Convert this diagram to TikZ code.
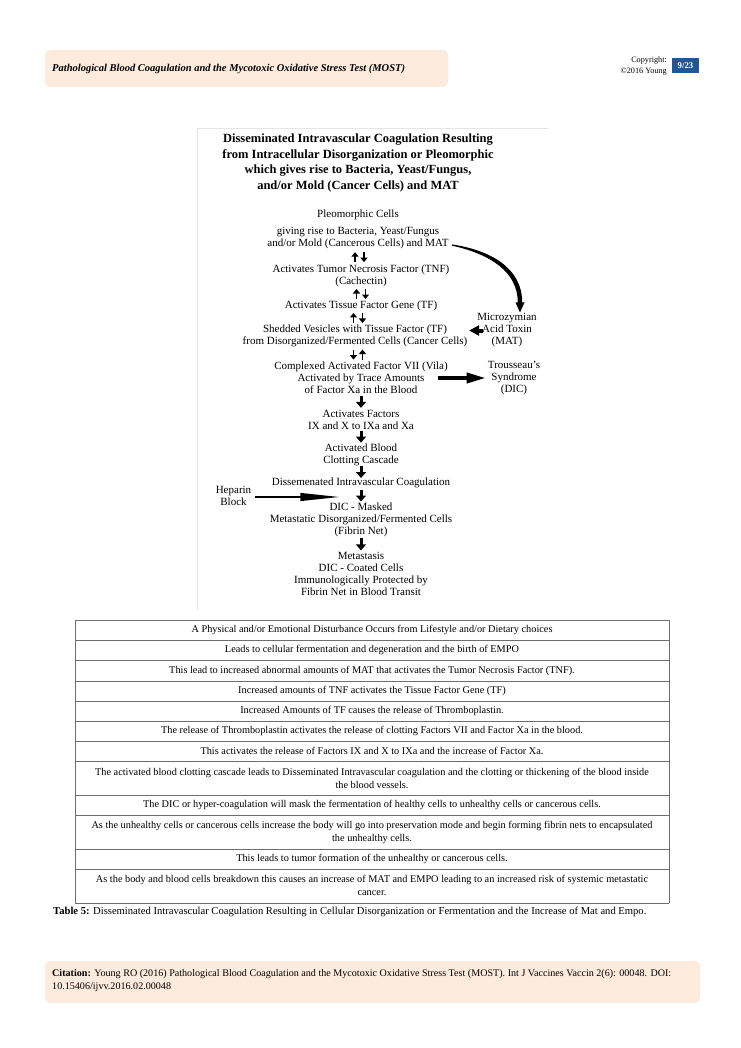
\documentclass[tikz,border=0pt]{standalone}
\usepackage{fontspec}
\setmainfont{Liberation Serif}
\usetikzlibrary{positioning,arrows.meta,calc}

\definecolor{peach}{RGB}{253,236,222}
\definecolor{pageblue}{RGB}{33,86,152}
\definecolor{rule}{RGB}{110,110,110}

\begin{document}
\begin{tikzpicture}[x=1pt, y=-1pt,
  flow/.style={align=center, inner sep=0pt, font=\fontsize{11}{12}\selectfont},
  tabtext/.style={align=center, inner sep=0pt, font=\fontsize{10.3}{13}\selectfont},
  fatarrow/.style={line width=3pt, -{Triangle[length=6pt,width=10pt]}},
  pairarrow/.style={line width=1.6pt, -{Triangle[length=4.5pt,width=7pt]}},
  sidearrow/.style={line width=3.5pt, -{Triangle[length=19pt,width=10pt]}},
  leftarrow/.style={line width=4pt, -{Triangle[length=10pt,width=10pt]}},
  heparrow/.style={line width=2.4pt, -{Triangle[length=40pt,width=7.5pt]}}]
  %----- page -----
  \useasboundingbox (0,0) rectangle (740,1048);
  \fill[white] (0,0) rectangle (740,1048);
  % header
  \fill[peach, rounded corners=5pt] (45,50) rectangle (448,87);
  \node[anchor=west, inner sep=0pt, font=\fontsize{10.5}{12}\selectfont\bfseries\itshape] (head) at (52,69)
    {Pathological Blood Coagulation and the Mycotoxic Oxidative Stress Test (MOST)};
  \node[anchor=east, align=right, inner sep=0pt, font=\fontsize{8.2}{11}\selectfont] (copy) at (667,66.5)
    {Copyright:\\ ©2016 Young};
  \node[fill=pageblue, text=white, inner sep=0pt, minimum width=27pt, minimum height=15pt,
    font=\fontsize{8.8}{10}\selectfont\bfseries] (page) at (685.5,66) {9/23};

  %----- figure -----
  \draw[black!10] (197,610) -- (197,128) -- (548,128);
  \node[align=center, inner sep=0pt, font=\fontsize{12.5}{15.7}\selectfont\bfseries] (title) at (358,163)
    {Disseminated Intravascular Coagulation Resulting\\
     from Intracellular Disorganization or Pleomorphic\\
     which gives rise to Bacteria, Yeast/Fungus,\\
     and/or Mold (Cancer Cells) and MAT};

  \node[flow] (pleo) at (358,215) {Pleomorphic Cells};
  \node[flow] (rise) at (358,238.5) {giving rise to Bacteria, Yeast/Fungus\\ and/or Mold (Cancerous Cells) and MAT};
  \node[flow] (tnf)  at (361,276) {Activates Tumor Necrosis Factor (TNF)\\ (Cachectin)};
  \node[flow] (tf)   at (361,306) {Activates Tissue Factor Gene (TF)};
  \node[flow] (shed) at (355,336) {Shedded Vesicles with Tissue Factor (TF)\\ from Disorganized/Fermented Cells (Cancer Cells)};
  \node[flow] (vii)  at (361,378) {Complexed Activated Factor VII (Vila)\\ Activated by Trace Amounts\\ of Factor Xa in the Blood};
  \node[flow] (ixx)  at (361,419.5) {Activates Factors\\ IX and X to IXa and Xa};
  \node[flow] (casc) at (361,455) {Activated Blood\\ Clotting Cascade};
  \node[flow] (dic)  at (361,483) {Dissemenated Intravascular Coagulation};
  \node[flow] (mask) at (361,520) {DIC - Masked\\ Metastatic Disorganized/Fermented Cells\\ (Fibrin Net)};
  \node[flow] (meta) at (361,573.5) {Metastasis\\ DIC - Coated Cells\\ Immunologically Protected by\\ Fibrin Net in Blood Transit};
  % side notes
  \node[flow] (mat)  at (507,330.5) {Microzymian\\ Acid Toxin\\ (MAT)};
  \node[flow] (trou) at (514,378) {Trousseau's\\ Syndrome\\ (DIC)};
  \node[flow] (hep)  at (233.5,496) {Heparin\\ Block};

  %----- arrows between the steps -----
  \def\updn#1#2{ % up arrow left, down arrow right
    \coordinate (mid) at ($(#1.south)!.5!(#2.north)$);
    \draw[pairarrow] ([xshift=-4.5pt,yshift=-5pt]mid) -- ++(0,-10);
    \draw[pairarrow] ([xshift=4.5pt,yshift=5pt]mid) -- ++(0,10);
  }
  \def\dnup#1#2{ % down arrow left, up arrow right
    \coordinate (mid) at ($(#1.south)!.5!(#2.north)$);
    \draw[pairarrow] ([xshift=-4.5pt,yshift=5pt]mid) -- ++(0,10);
    \draw[pairarrow] ([xshift=4.5pt,yshift=-5pt]mid) -- ++(0,-10);
  }
  \def\fatdown#1#2{
    \coordinate (mid) at ($(#1.south)!.5!(#2.north)$);
    \draw[fatarrow] ([yshift=6pt]mid) -- ++(0,12);
  }
  \updn{rise}{tnf}
  \updn{tnf}{tf}
  \updn{tf}{shed}
  \dnup{shed}{vii}
  \fatdown{vii}{ixx}
  \fatdown{ixx}{casc}
  \fatdown{casc}{dic}
  \fatdown{dic}{mask}
  \fatdown{mask}{meta}

  % tapered curve from the MAT line to the toxin note
  \coordinate (cs) at ($(rise.east)+(3,6.5)$);
  \coordinate (ce) at ($(mat.north)+(13,-1)$);
  \fill ($(cs)+(0,-0.6)$) .. controls ($(cs)+(38,5)$) and ($(ce)+(2.2,-45)$) .. ($(ce)+(2.2,-10)$)
    -- ($(ce)+(4.5,-10)$) -- (ce) -- ($(ce)+(-4.5,-10)$) -- ($(ce)+(-2.2,-10)$)
    .. controls ($(ce)+(-2.2,-41)$) and ($(cs)+(38,9)$) .. ($(cs)+(0,0.6)$) -- cycle;
  \draw[leftarrow] ([xshift=5.5pt]mat.west) -- ++(-13.5,0);
  \draw[sidearrow] ([xshift=-10pt]vii.east) -- ([xshift=-2pt]trou.west);
  \draw[heparrow] ([xshift=4pt,yshift=-1pt]hep.east) -- ++(85,0);

  %----- table -----
  \foreach \yy in {620,640,660,681,701,721,741,761,795,815,849,869,903}
    \draw[rule, line width=0.8pt] (75,\yy) -- (669,\yy);
  \draw[rule, line width=0.8pt] (75,620) -- (75,903);
  \draw[rule, line width=0.8pt] (669,620) -- (669,903);

  \node[tabtext] (row1)  at (372,630) {A Physical and/or Emotional Disturbance Occurs from Lifestyle and/or Dietary choices};
  \node[tabtext] (row2)  at (372,650) {Leads to cellular fermentation and degeneration and the birth of EMPO};
  \node[tabtext] (row3)  at (372,670.5) {This lead to increased abnormal amounts of MAT that activates the Tumor Necrosis Factor (TNF).};
  \node[tabtext] (row4)  at (372,691) {Increased amounts of TNF activates the Tissue Factor Gene (TF)};
  \node[tabtext] (row5)  at (372,711) {Increased Amounts of TF causes the release of Thromboplastin.};
  \node[tabtext] (row6)  at (372,731) {The release of Thromboplastin activates the release of clotting Factors VII and Factor Xa in the blood.};
  \node[tabtext] (row7)  at (372,751) {This activates the release of Factors IX and X to IXa and the increase of Factor Xa.};
  \node[tabtext] (row8)  at (372,778) {The activated blood clotting cascade leads to Disseminated Intravascular coagulation and the clotting or thickening of the blood inside\\ the blood vessels.};
  \node[tabtext] (row9)  at (372,805) {The DIC or hyper-coagulation will mask the fermentation of healthy cells to unhealthy cells or cancerous cells.};
  \node[tabtext] (row10) at (372,832) {As the unhealthy cells or cancerous cells increase the body will go into preservation mode and begin forming fibrin nets to encapsulated\\ the unhealthy cells.};
  \node[tabtext] (row11) at (372,859) {This leads to tumor formation of the unhealthy or cancerous cells.};
  \node[tabtext] (row12) at (372,885.5) {As the body and blood cells breakdown this causes an increase of MAT and EMPO leading to an increased risk of systemic metastatic\\ cancer.};

  \node[anchor=west, inner sep=0pt, font=\fontsize{10.6}{12}\selectfont] (caption) at (53,912)
    {\textbf{Table 5:} Disseminated Intravascular Coagulation Resulting in Cellular Disorganization or Fermentation and the Increase of Mat and Empo.};

  %----- citation -----
  \fill[peach, rounded corners=5pt] (45,961) rectangle (700,1003);
  \node[anchor=north west, align=left, inner sep=0pt, font=\fontsize{10.1}{13}\selectfont] (cite) at (52,969)
    {\textbf{Citation:} Young RO (2016) Pathological Blood Coagulation and the Mycotoxic Oxidative Stress Test (MOST). Int J Vaccines Vaccin 2(6): 00048. DOI:\\
     10.15406/ijvv.2016.02.00048};
\end{tikzpicture}
\end{document}
